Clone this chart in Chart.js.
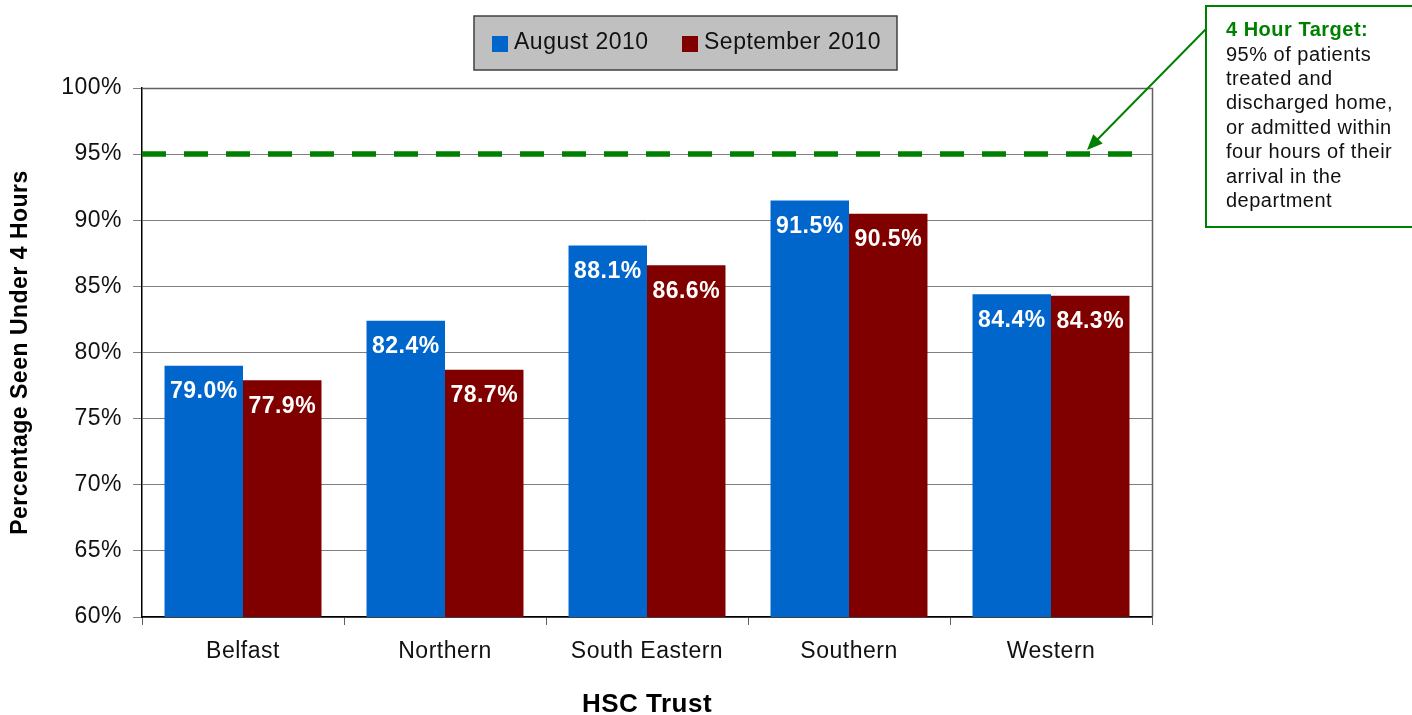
<!DOCTYPE html>
<html>
<head>
<meta charset="utf-8">
<script src="https://cdn.jsdelivr.net/npm/chart.js@4/dist/chart.umd.min.js"></script>
<style>
  html, body { margin: 0; padding: 0; background: #fff; }
  #wrap { width: 1412px; height: 715px; }
</style>
</head>
<body>
<div id="wrap"><canvas id="chart" width="1412" height="715"></canvas></div>
<script>
// --- data ---
const trusts = ['Belfast', 'Northern', 'South Eastern', 'Southern', 'Western'];
const august2010 = [79.0, 82.4, 88.1, 91.5, 84.4];
const september2010 = [77.9, 78.7, 86.6, 90.5, 84.3];
const seriesNames = ['August 2010', 'September 2010'];
const targetValue = 95;
const noteTitle = '4 Hour Target:';
const noteLines = ['95% of patients', 'treated and', 'discharged home,', 'or admitted within', 'four hours of their', 'arrival in the', 'department'];

const FONT = '"Liberation Sans", Arial, Helvetica, sans-serif';
const blue = '#0066CC';
const maroon = '#800000';
const green = '#008000';

// the source chart has slightly loose letter spacing everywhere
const spacing = {
    id: 'spacing',
    beforeDraw(chart) {
        chart.ctx.letterSpacing = '0.5px';
    }
};

// white value labels inside bar tops
const valueLabels = {
    id: 'valueLabels',
    afterDatasetsDraw(chart) {
        const ctx = chart.ctx;
        ctx.save();
        ctx.font = 'bold 23px ' + FONT;
        ctx.fillStyle = '#fff';
        ctx.textAlign = 'center';
        ctx.textBaseline = 'middle';
        chart.data.datasets.forEach((ds, i) => {
            chart.getDatasetMeta(i).data.forEach((bar, j) => {
                ctx.fillText(ds.data[j].toFixed(1) + '%', bar.x, bar.y + 26);
            });
        });
        ctx.restore();
    }
};

// plot frame, target line, note box + arrow, legend box
const decorations = {
    id: 'decorations',
    afterDraw(chart) {
        const ctx = chart.ctx;
        const area = chart.chartArea;
        const y = chart.scales.y;
        ctx.save();

        // frame on top and right
        ctx.strokeStyle = '#606060';
        ctx.lineWidth = 1.5;
        ctx.beginPath();
        ctx.moveTo(area.left, area.top + 0.5);
        ctx.lineTo(area.right + 0.5, area.top + 0.5);
        ctx.lineTo(area.right + 0.5, area.bottom);
        ctx.stroke();

        // target dashed line
        const ty = Math.round(y.getPixelForValue(targetValue));
        ctx.strokeStyle = green;
        ctx.lineWidth = 5.5;
        ctx.setLineDash([24, 18]);
        ctx.beginPath();
        ctx.moveTo(area.left, ty);
        ctx.lineTo(area.left + 23 * 42 + 24, ty);
        ctx.stroke();
        ctx.setLineDash([]);

        // note box
        const bx = 1206, by = 6;
        ctx.fillStyle = '#fff';
        ctx.fillRect(bx, by, 230, 221);
        ctx.strokeStyle = green;
        ctx.lineWidth = 2;
        ctx.strokeRect(bx, by, 230, 221);
        ctx.textAlign = 'left';
        ctx.textBaseline = 'middle';
        ctx.fillStyle = green;
        ctx.font = 'bold 20px ' + FONT;
        ctx.fillText(noteTitle, 1226, 30);
        ctx.fillStyle = '#111';
        ctx.font = '20px ' + FONT;
        noteLines.forEach((t, i) => ctx.fillText(t, 1226, 55 + i * 24.4));

        // arrow from box to target line
        const x0 = bx, y0 = 29, x1 = 1087, y1 = ty - 4;
        ctx.strokeStyle = green;
        ctx.fillStyle = green;
        ctx.lineWidth = 2;
        ctx.beginPath();
        ctx.moveTo(x0, y0);
        ctx.lineTo(x1 + 6, y1 - 6);
        ctx.stroke();
        const ang = Math.atan2(y1 - y0, x1 - x0);
        ctx.beginPath();
        ctx.moveTo(x1, y1);
        ctx.lineTo(x1 - 17 * Math.cos(ang - 0.4), y1 - 17 * Math.sin(ang - 0.4));
        ctx.lineTo(x1 - 17 * Math.cos(ang + 0.4), y1 - 17 * Math.sin(ang + 0.4));
        ctx.closePath();
        ctx.fill();

        // legend box
        ctx.fillStyle = '#C0C0C0';
        ctx.fillRect(474, 16, 423, 54);
        ctx.strokeStyle = '#404040';
        ctx.lineWidth = 1.5;
        ctx.strokeRect(474, 16, 423, 54);
        ctx.font = '23px ' + FONT;
        ctx.textBaseline = 'middle';
        const items = [[492, blue], [682, maroon]];
        chart.data.datasets.forEach((ds, i) => {
            ctx.fillStyle = items[i][1];
            ctx.fillRect(items[i][0], 36, 16, 16);
            ctx.fillStyle = '#111';
            ctx.fillText(ds.label, items[i][0] + 22, 43);
        });

        ctx.restore();
    }
};

new Chart(document.getElementById('chart'), {
    type: 'bar',
    data: {
        labels: trusts,
        datasets: [
            { label: seriesNames[0], data: august2010, backgroundColor: blue },
            { label: seriesNames[1], data: september2010, backgroundColor: maroon }
        ]
    },
    options: {
        responsive: false,
        animation: false,
        events: [],
        layout: { padding: { top: 88, right: 260, left: 0, bottom: 0 } },
        datasets: { bar: { categoryPercentage: 0.777, barPercentage: 1 } },
        plugins: {
            legend: { display: false },
            tooltip: { enabled: false }
        },
        scales: {
            y: {
                min: 60,
                max: 100,
                afterFit: s => { s.width = 142; },
                ticks: {
                    stepSize: 5,
                    color: '#111',
                    padding: 11,
                    font: { family: FONT, size: 23 },
                    callback: v => v + '%'
                },
                grid: { color: '#808080', lineWidth: 1, tickLength: 9 },
                border: { color: '#000', width: 1.5 },
                title: {
                    display: true,
                    text: 'Percentage Seen Under 4 Hours',
                    color: '#000',
                    font: { family: FONT, size: 23, weight: 'bold' },
                    padding: { top: 7, bottom: 0 }
                }
            },
            x: {
                afterFit: s => { s.height = 98; },
                ticks: {
                    color: '#111',
                    padding: 13,
                    font: { family: FONT, size: 23 }
                },
                grid: { drawOnChartArea: false, color: '#606060', tickLength: 8 },
                border: { color: '#000', width: 1.5 },
                title: {
                    display: true,
                    text: 'HSC Trust',
                    color: '#000',
                    font: { family: FONT, size: 26, weight: 'bold', lineHeight: 0.75 },
                    padding: { top: 0, bottom: 0 }
                }
            }
        }
    },
    plugins: [spacing, valueLabels, decorations]
});
</script>
</body>
</html>
